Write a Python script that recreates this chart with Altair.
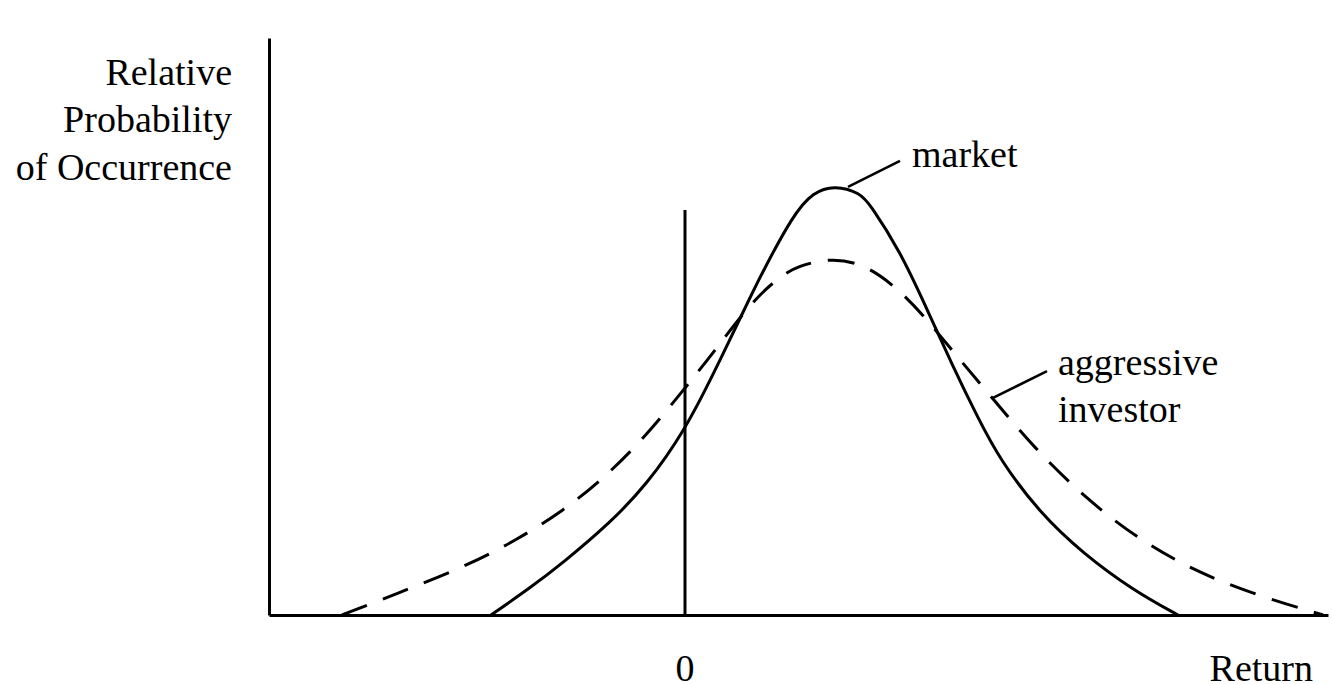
import altair as alt
import pandas as pd

# Return (horizontal) and relative probability (vertical)
market_x = [-3.88, -3.10, -2.44, -1.50, -0.76, 0.00, 0.56, 1.20, 1.50, 2.16, 2.56,
            3.00, 3.50, 3.70, 4.30, 4.80, 5.36, 5.84, 6.30, 7.10, 7.96, 8.96, 9.86]
market_y = [0.000, 0.063, 0.122, 0.215, 0.305, 0.432, 0.561, 0.717, 0.790, 0.935, 0.988,
            1.004, 0.986, 0.960, 0.850, 0.725, 0.580, 0.465, 0.362, 0.238, 0.144, 0.058, 0.000]

aggressive_x = [-6.86, -5.76, -4.30, -3.36, -2.44, -1.64, -0.84, 0.00, 0.56, 1.36, 1.90,
                2.24, 2.96, 3.70, 4.44, 4.96, 5.50, 6.16, 6.96, 8.04, 9.10, 10.16, 11.30, 12.76]
aggressive_y = [0.000, 0.050, 0.118, 0.176, 0.243, 0.318, 0.410, 0.530, 0.612, 0.736, 0.790,
                0.815, 0.836, 0.815, 0.743, 0.673, 0.596, 0.505, 0.393, 0.269, 0.175, 0.105, 0.051, 0.000]

zero_top = 0.946

# Leader lines from each curve to its label
leader_x = [3.26, 6.16]
leader_y = [1.000, 0.507]
leader_x2 = [4.30, 7.24]
leader_y2 = [1.061, 0.570]

label_text = ["market", "aggressive", "investor"]
label_x = [4.54, 7.46, 7.46]
label_y = [1.047, 0.561, 0.451]

ytitle_lines = ["Relative", "Probability", "of Occurrence"]
ytitle_x = [-9.06, -9.06, -9.06]
ytitle_y = [1.238, 1.129, 1.016]

zero_label_x = [0.0]
return_label_x = [12.56]
xlabel_y = -0.155

XDOM = [-8.32, 12.86]
YDOM = [0, 1.348]
FONT = "Liberation Serif, Times New Roman, Times, serif"
FS = 38

xs = alt.Scale(domain=XDOM, nice=False, zero=False)
ys = alt.Scale(domain=YDOM, nice=False)

market = pd.DataFrame({"x": market_x, "y": market_y})
aggressive = pd.DataFrame({"x": aggressive_x, "y": aggressive_y})

ax_x = alt.Axis(domain=True, domainColor="black", domainWidth=3, ticks=False,
                labels=False, grid=False, title=None)
ax_y = alt.Axis(domain=True, domainColor="black", domainWidth=3, ticks=False,
                labels=False, grid=False, title=None)

market_line = alt.Chart(market).mark_line(
    color="black", strokeWidth=3, interpolate="basis"
).encode(
    x=alt.X("x:Q", scale=xs, axis=ax_x),
    y=alt.Y("y:Q", scale=ys, axis=ax_y),
)

aggr_line = alt.Chart(aggressive).mark_line(
    color="black", strokeWidth=3, strokeDash=[27, 17], interpolate="basis"
).encode(
    x=alt.X("x:Q", scale=xs),
    y=alt.Y("y:Q", scale=ys),
)

zero_rule = alt.Chart(pd.DataFrame({"x": [0.0], "y": [0.0], "y2": [zero_top]})).mark_rule(
    color="black", strokeWidth=3
).encode(
    x=alt.X("x:Q", scale=xs),
    y=alt.Y("y:Q", scale=ys),
    y2="y2:Q",
)

leaders = alt.Chart(pd.DataFrame({"x": leader_x, "y": leader_y,
                                  "x2": leader_x2, "y2": leader_y2})).mark_rule(
    color="black", strokeWidth=2.5
).encode(
    x=alt.X("x:Q", scale=xs),
    y=alt.Y("y:Q", scale=ys),
    x2="x2:Q",
    y2="y2:Q",
)

def text_layer(texts, xvals, yvals, align):
    df = pd.DataFrame({"t": texts, "x": xvals, "y": yvals})
    return alt.Chart(df).mark_text(
        font=FONT, fontSize=FS, align=align, baseline="alphabetic", color="black"
    ).encode(
        x=alt.X("x:Q", scale=xs),
        y=alt.Y("y:Q", scale=ys),
        text="t:N",
    )

labels = text_layer(label_text, label_x, label_y, "left")
ytitle = text_layer(ytitle_lines, ytitle_x, ytitle_y, "right")
zero_label = text_layer(["0"], zero_label_x, [xlabel_y], "center")
return_label = text_layer(["Return"], return_label_x, [xlabel_y], "right")

chart = alt.layer(
    market_line, aggr_line, zero_rule, leaders, labels, ytitle, zero_label, return_label
).properties(
    width=1059, height=577,
    autosize=alt.AutoSizeParams(type="none"),
    padding={"left": 269, "top": 38, "right": 4, "bottom": 69},
    background="white",
).configure_view(stroke=None)

chart.save("out.html", embed_options={"renderer": "svg", "actions": False})
